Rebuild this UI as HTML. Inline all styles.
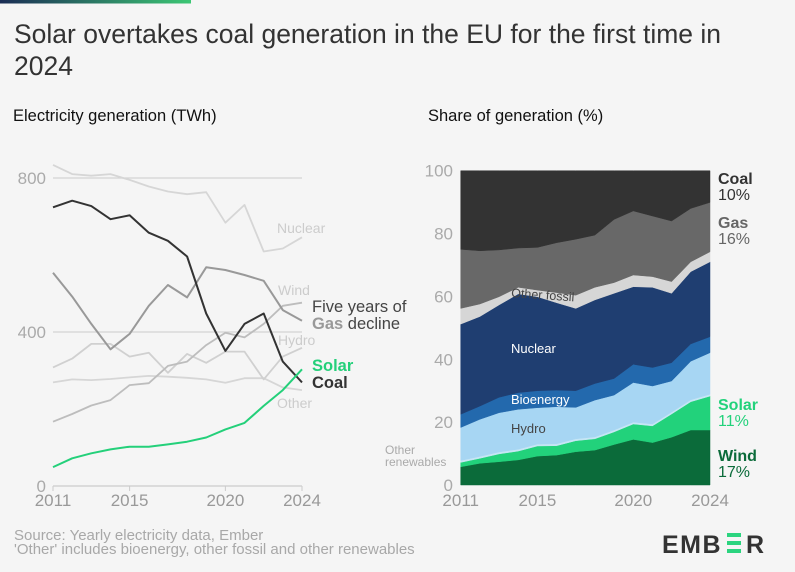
<!DOCTYPE html>
<html><head><meta charset="utf-8"><style>
html,body{margin:0;padding:0;background:#f5f5f5;}
svg{display:block;font-family:"Liberation Sans",sans-serif;}
</style></head><body>
<svg id="chart" width="795" height="572" viewBox="0 0 795 572">
<defs><linearGradient id="tg" x1="0" x2="1"><stop offset="0" stop-color="#1b2d55"/><stop offset="1" stop-color="#3cc774"/></linearGradient></defs>
<rect width="795" height="572" fill="#f5f5f5"/>
<rect x="0" y="0" width="191" height="3.5" fill="url(#tg)"/>
<text x="14" y="43" font-size="26.5" fill="#333">Solar overtakes coal generation in the EU for the first time in</text>
<text x="14" y="75" font-size="26.5" fill="#333">2024</text>
<text x="13" y="121" font-size="16.5" fill="#111">Electricity generation (TWh)</text>
<text x="428" y="121" font-size="16.5" fill="#111">Share of generation (%)</text>
<g id="left"></g>
<g id="right"></g>
<text x="14" y="540" font-size="15" fill="#a8a8a8">Source: Yearly electricity data, Ember</text>
<text x="14" y="554" font-size="15" fill="#a8a8a8">'Other' includes bioenergy, other fossil and other renewables</text>
<g>
<text x="662" y="553" font-size="25" font-weight="bold" fill="#333" letter-spacing="1.5">EMB</text>
<rect x="727" y="533" width="14" height="4" fill="#2bd47f"/><rect x="727" y="541" width="14" height="4" fill="#2bd47f"/><rect x="727" y="549" width="14" height="4" fill="#2bd47f"/>
<text x="746" y="553" font-size="25" font-weight="bold" fill="#333">R</text>
</g>
</svg>
<script>
const years=[2011,2012,2013,2014,2015,2016,2017,2018,2019,2020,2021,2022,2023,2024];
const nuclearTWh=[834,810,806,810,795,778,765,758,763,684,730,609,617,646];
const coalTWh=[724,741,727,693,703,658,637,596,448,351,421,448,323,269];
const gasTWh=[554,492,421,355,395,468,522,490,568,561,548,533,457,429];
const windTWh=[167,187,209,223,262,267,312,323,366,398,386,421,468,476];
const hydroTWh=[308,331,369,369,336,346,294,343,320,349,349,277,336,359];
const otherTWh=[269,277,275,278,282,286,284,281,277,268,280,280,256,249];
const solarTWh=[49,72,85,95,102,102,108,115,126,147,164,208,249,303];
const leftTicks=[0,400,800];
const xTicks=[2011,2015,2020,2024];
// shares (%) bottom-up
const windPct=[5.8,6.9,7.4,8,9.2,9.5,10.6,11.1,12.9,14.5,13.5,15.2,17.5,17.5];
const solarPct=[1.4,1.6,2.5,2.8,3.2,3.0,3.5,3.6,4.0,4.9,5.3,7.4,9.0,10.8];
const otherRenPct=[0.6,0.6,0.6,0.6,0.6,0.6,0.6,0.6,0.6,0.6,0.6,0.6,0.6,0.6];
const hydroPct=[10.5,11.8,12.5,12.7,11.6,11.8,10.0,11.7,11.1,12.6,12.1,9.9,12.3,13.2];
const bioPct=[4.2,4.2,4.9,5.3,5.4,5.3,5.3,5.3,5.3,5.8,5.9,5.8,5.5,5.1];
const nuclearPct=[28.7,28.5,29.4,31.4,29.9,27.8,26.2,26.6,27.1,24.7,25.5,22.1,23.0,23.8];
const otherFossilPct=[5.0,4.0,2.6,2.1,2.1,3.2,4.2,4.0,3.4,3.7,3.4,3.7,3.1,3.2];
const gasPct=[18.8,16.9,14.9,12.5,13.6,15.9,17.8,16.6,20.1,20.4,19.3,19.3,17.0,15.7];
const coalPct=[25,25.5,25.2,24.6,24.4,22.9,21.8,20.5,15.5,12.8,14.4,16,12,10.1];
const rightTicks=[0,20,40,60,80,100];

const NS='http://www.w3.org/2000/svg';
function mk(parent,tag,attrs,txt){const e=document.createElementNS(NS,tag);for(const k in attrs)e.setAttribute(k,attrs[k]);if(txt!==undefined)e.textContent=txt;parent.appendChild(e);return e;}

// left chart
const L=document.getElementById('left');
const lx=y=>53+(y-2011)*(302-53)/13;
const ly=v=>486-v*(486-178)/800;
leftTicks.forEach(t=>{
  if(t>0){const g=mk(L,'line',{x1:53,x2:302,y1:ly(t),y2:ly(t),stroke:'#d3d3d3','stroke-width':1.2});
  
  }
  const tx=mk(L,'text',{x:46,y:ly(t)+6,'font-size':17,fill:'#aaa','text-anchor':'end'},t);
  
  
});
const ax=mk(L,'line',{x1:53,x2:302,y1:486,y2:486,stroke:'#ccc','stroke-width':1.2});


xTicks.forEach(t=>{
  const tk=mk(L,'line',{x1:lx(t),x2:lx(t),y1:486,y2:491,stroke:'#ccc'});
  
  
  const tx=mk(L,'text',{x:lx(t),y:506,'font-size':17,fill:'#999','text-anchor':'middle'},t);
  
  
});
function line(vals,color,w,name){
  const d=vals.map((v,i)=>(i?'L':'M')+lx(years[i]).toFixed(1)+','+ly(v).toFixed(1)).join('');
  const p=mk(L,'path',{d:d,fill:'none',stroke:color,'stroke-width':w,'stroke-linejoin':'round'});
  
  
}
line(nuclearTWh,'#d6d6d6',1.8,'nuclear-line');
line(otherTWh,'#d6d6d6',1.8,'other-line');
line(hydroTWh,'#d0d0d0',1.8,'hydro-line');
line(windTWh,'#bdbdbd',1.8,'wind-line');
line(gasTWh,'#999',2,'gas-line');
line(coalTWh,'#333',2,'coal-line');
line(solarTWh,'#24d07a',2,'solar-line');
function lab(x,y,t,fill,size,weight,name){const e=mk(L,'text',{x:x,y:y,'font-size':size,fill:fill,'font-weight':weight||'normal'},t);
  
  return e;}
lab(277,233,'Nuclear','#ccc',14,'normal','nuclear-label');
lab(278,295,'Wind','#ccc',14,'normal','wind-label');
lab(278,345,'Hydro','#ccc',14,'normal','hydro-label');
lab(277,408,'Other','#ccc',14,'normal','other-label');
lab(312,312,'Five years of','#444',16.5,'normal','gas-annotation-1');
const g2=lab(312,329,'','#444',16.5,'normal','gas-annotation-2');
const gs=document.createElementNS(NS,'tspan');gs.setAttribute('font-weight','bold');gs.setAttribute('fill','#999');gs.textContent='Gas';g2.appendChild(gs);
const gs2=document.createElementNS(NS,'tspan');gs2.textContent=' decline';g2.appendChild(gs2);
lab(312,371,'Solar','#24d07a',16.5,'bold','solar-label');
lab(312,388,'Coal','#333',16.5,'bold','coal-label');

// right chart
const R=document.getElementById('right');
const rx=y=>460.7+(y-2011)*(710-460.7)/13;
const ry=v=>485-v*(485-170.7)/100;
const layers=[[windPct,'#0b6b3a','wind'],[solarPct,'#22d27b','solar'],[otherRenPct,'#c6e6f5','other-renewables'],[hydroPct,'#a7d6f3','hydro'],[bioPct,'#2369ad','bioenergy'],[nuclearPct,'#1f3e71','nuclear'],[otherFossilPct,'#d6d6d6','other-fossil'],[gasPct,'#686868','gas'],[coalPct,'#333333','coal']];
let base=years.map(()=>0);
layers.forEach(([vals,col,nm])=>{
  const top=base.map((b,i)=>b+vals[i]);
  let d=top.map((v,i)=>(i?'L':'M')+rx(years[i]).toFixed(1)+','+ry(v).toFixed(1)).join('');
  for(let i=years.length-1;i>=0;i--)d+='L'+rx(years[i]).toFixed(1)+','+ry(base[i]).toFixed(1);
  const p=mk(R,'path',{d:d+'Z',fill:col,stroke:col,'stroke-width':0.5});
  
  
  base=top;
});
rightTicks.forEach(t=>{
  const tx=mk(R,'text',{x:453,y:ry(t)+6,'font-size':17,fill:'#aaa','text-anchor':'end'},t);
  
  
});
xTicks.forEach(t=>{
  const tx=mk(R,'text',{x:rx(t),y:506,'font-size':17,fill:'#999','text-anchor':'middle'},t);
  
  
});
function rl(x,y,t,fill,size,weight,name,rot){const a={x:x,y:y,'font-size':size,fill:fill,'font-weight':weight||'normal'};if(rot)a.transform=rot;const e=mk(R,'text',a,t);
  
  }
rl(511,353,'Nuclear','#fff',13,'normal','nuclear-area-label');
rl(511,404,'Bioenergy','#fff',13,'normal','bioenergy-area-label');
rl(511,433,'Hydro','#444',13,'normal','hydro-area-label');
rl(511,297,'Other fossil','#444',12.5,'normal','other-fossil-area-label','rotate(4 511 297)');
rl(385,454,'Other','#aaa',12,'normal','other-renewables-label-1');
rl(385,466,'renewables','#aaa',12,'normal','other-renewables-label-2');
rl(718,184,'Coal','#333',16,'bold','coal-share-label');
rl(718,200,'10%','#333',16,'normal','coal-share-value');
rl(718,228,'Gas','#666',16,'bold','gas-share-label');
rl(718,244,'16%','#666',16,'normal','gas-share-value');
rl(718,410,'Solar','#22d27b',16,'bold','solar-share-label');
rl(718,426,'11%','#22d27b',16,'normal','solar-share-value');
rl(718,461,'Wind','#0b6b3a',16,'bold','wind-share-label');
rl(718,477,'17%','#0b6b3a',16,'normal','wind-share-value');
</script>
</body></html>
